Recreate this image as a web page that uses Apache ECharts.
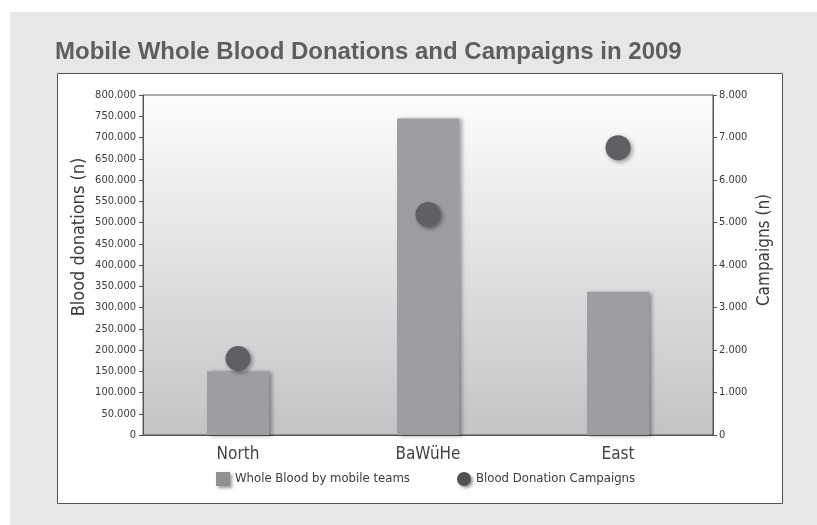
<!DOCTYPE html>
<html>
<head>
<meta charset="utf-8">
<script src="https://cdn.jsdelivr.net/npm/echarts@6/dist/echarts.min.js"></script>
<style>
html,body{margin:0;padding:0;background:#fff;}
#chart{width:817px;height:525px;}
</style>
</head>
<body>
<div id="chart"></div>
<script>
const categories = ['North', 'BaWüHe', 'East'];
const wholeBlood = [150000, 745000, 337000];
const campaigns = [1800, 5190, 6760];
const titleText = 'Mobile Whole Blood Donations and Campaigns in 2009';
const seriesNames = ['Whole Blood by mobile teams', 'Blood Donation Campaigns'];
const leftAxisName = 'Blood donations (n)';
const rightAxisName = 'Campaigns (n)';

const NARROW = "'Liberation Sans Narrow', 'DejaVu Sans Condensed', 'Arial Narrow', sans-serif";
const fmt = v => String(v).replace(/\B(?=(\d{3})+(?!\d))/g, '.');

const chart = echarts.init(document.getElementById('chart'));
chart.setOption({
  backgroundColor: '#ffffff',
  animation: false,
  title: {
    text: titleText,
    left: 50, top: 35,
    textStyle: { fontFamily: "'Liberation Sans', Arial, sans-serif", fontWeight: 'bold', fontSize: 24, color: '#5d5e60' }
  },
  graphic: [
    { type: 'rect', z: -10, silent: true, shape: { x: 10, y: 12, width: 807, height: 513 }, style: { fill: '#e6e7e8' } },
    { type: 'rect', z: -9, silent: true, shape: { x: 57.5, y: 73.5, width: 725, height: 430 }, style: { fill: '#ffffff', stroke: '#555555', lineWidth: 1 } },
    { type: 'text', x: 79, y: 237, rotation: Math.PI / 2, style: { text: leftAxisName, fontFamily: NARROW, fontSize: 18, fill: '#3a3a3a', align: 'center', verticalAlign: 'middle' } },
    { type: 'text', x: 765, y: 250, rotation: Math.PI / 2, style: { text: rightAxisName, fontFamily: NARROW, fontSize: 17, fill: '#3a3a3a', align: 'center', verticalAlign: 'middle' } }
  ],
  legend: [
    {
      data: [seriesNames[0]], left: 216, top: 472, padding: 0, itemWidth: 14, itemHeight: 14,
      icon: 'rect',
      itemStyle: { color: '#8e8f92', shadowColor: 'rgba(0,0,0,0.4)', shadowBlur: 3, shadowOffsetX: 2, shadowOffsetY: 2 },
      textStyle: { fontFamily: NARROW, fontSize: 13, color: '#3a3a3a' }
    },
    {
      data: [seriesNames[1]], left: 457, top: 472, padding: 0, itemWidth: 14, itemHeight: 14,
      icon: 'circle',
      itemStyle: { color: '#505154', shadowColor: 'rgba(0,0,0,0.4)', shadowBlur: 3, shadowOffsetX: 2, shadowOffsetY: 2 },
      textStyle: { fontFamily: NARROW, fontSize: 13, color: '#3a3a3a' }
    }
  ],
  grid: {
    left: 143, right: 104, top: 95, bottom: 90,
    show: true, borderColor: '#555555', borderWidth: 1,
    backgroundColor: { type: 'linear', x: 0, y: 0, x2: 0, y2: 1, colorStops: [{ offset: 0, color: '#fdfdfd' }, { offset: 1, color: '#c3c4c6' }] }
  },
  xAxis: {
    type: 'category', data: categories,
    axisLine: { lineStyle: { color: '#555555', width: 1 } },
    axisTick: { length: 7, lineStyle: { color: '#555555' } },
    axisLabel: { fontFamily: NARROW, fontSize: 17, color: '#444444', margin: 11 }
  },
  yAxis: [
    {
      type: 'value', min: 0, max: 800000, interval: 50000,
      axisLine: { show: true, lineStyle: { color: '#555555' } },
      axisTick: { show: true, length: 4, lineStyle: { color: '#555555' } },
      splitLine: { show: false },
      axisLabel: { fontFamily: NARROW, fontSize: 11, color: '#3a3a3a', margin: 7, formatter: fmt }
    },
    {
      type: 'value', min: 0, max: 8000, interval: 1000, position: 'right',
      axisLine: { show: true, lineStyle: { color: '#555555' } },
      axisTick: { show: true, length: 4, lineStyle: { color: '#555555' } },
      splitLine: { show: false },
      axisLabel: { fontFamily: NARROW, fontSize: 11, color: '#3a3a3a', margin: 6, formatter: fmt }
    }
  ],
  series: [
    {
      name: seriesNames[0], type: 'bar', data: wholeBlood, yAxisIndex: 0,
      barWidth: 62,
      itemStyle: { color: '#9d9ea1', shadowColor: 'rgba(0,0,0,0.35)', shadowBlur: 4, shadowOffsetX: 3, shadowOffsetY: 1 }
    },
    {
      name: seriesNames[1], type: 'scatter', data: campaigns, yAxisIndex: 1,
      symbol: 'circle', symbolSize: 25,
      itemStyle: { color: '#5f6063', opacity: 1, shadowColor: 'rgba(0,0,0,0.4)', shadowBlur: 4, shadowOffsetX: 2, shadowOffsetY: 2 }
    }
  ]
});
</script>
</body>
</html>
